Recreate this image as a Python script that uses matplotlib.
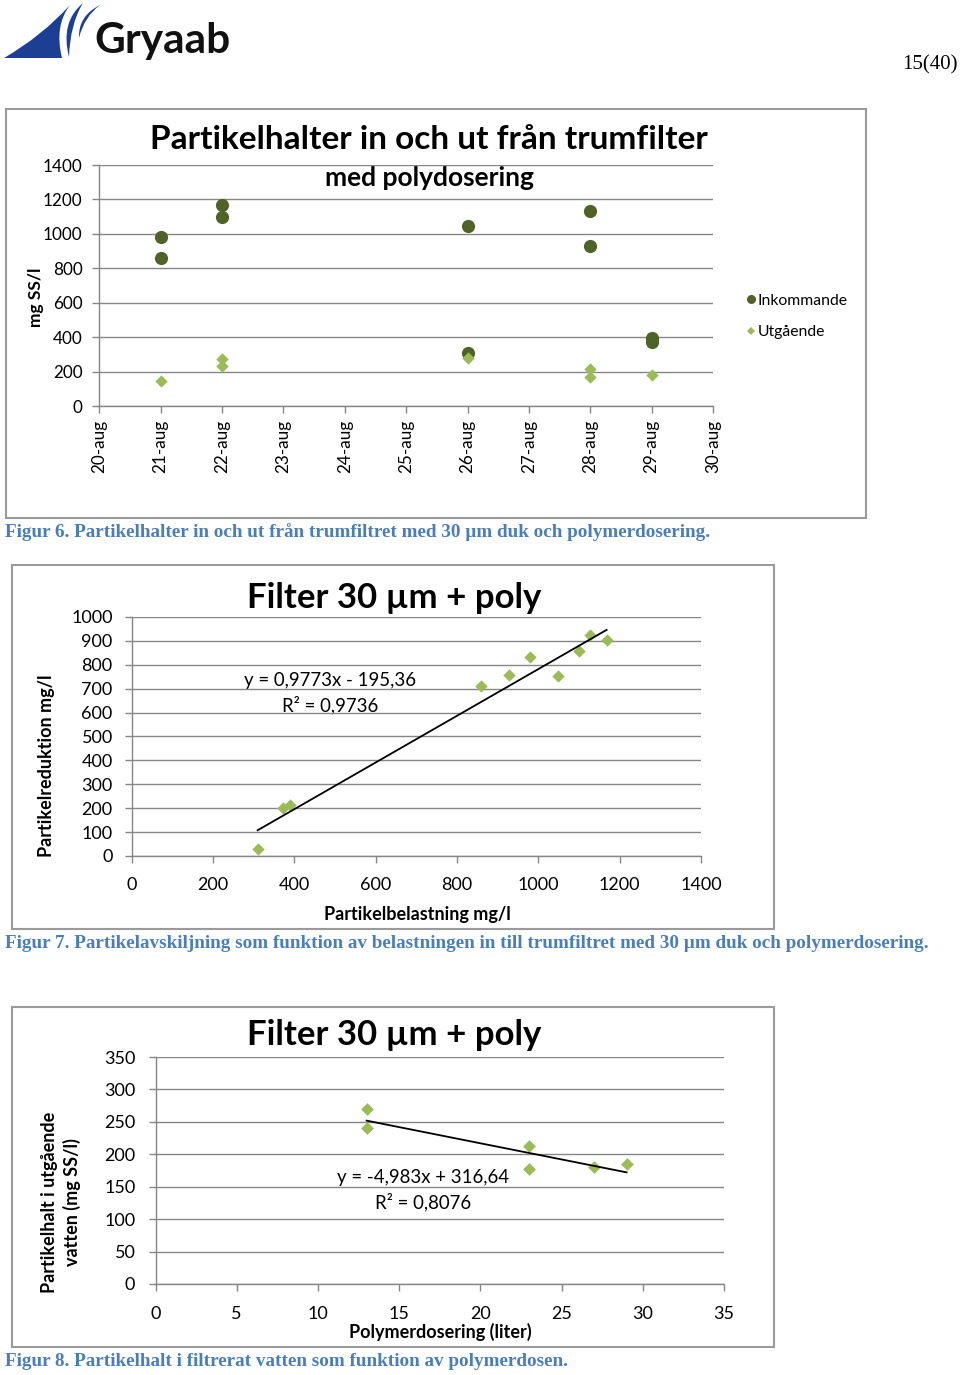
import matplotlib
matplotlib.use('Agg')
import matplotlib.pyplot as plt
import matplotlib.dates as mdates
from matplotlib.path import Path
from matplotlib.patches import PathPatch, Rectangle
from matplotlib.lines import Line2D
from matplotlib.ticker import FuncFormatter, MultipleLocator
import numpy as np
import pandas as pd

# ---------------- data ----------------
date_ticks = pd.date_range('2012-08-20', '2012-08-30', freq='D')
ink_dates = pd.to_datetime(['2012-08-21', '2012-08-21', '2012-08-22', '2012-08-22',
                            '2012-08-26', '2012-08-26', '2012-08-28', '2012-08-28',
                            '2012-08-29', '2012-08-29'])
ink_vals = [979, 857, 1170, 1100, 1048, 310, 1130, 928, 395, 373]
utg_dates = pd.to_datetime(['2012-08-21', '2012-08-22', '2012-08-22', '2012-08-26',
                            '2012-08-28', '2012-08-28', '2012-08-29'])
utg_vals = [146, 271, 233, 281, 213, 170, 180]

belastning = [310, 372, 390, 860, 929, 980, 1049, 1099, 1128, 1168]
reduktion = [31, 200, 213, 711, 758, 833, 752, 859, 923, 903]
fit2_slope, fit2_icpt = 0.9773, -195.36
fit2_text = ["y = 0,9773x - 195,36", "R² = 0,9736"]

polymer = [13, 13, 23, 23, 27, 29]
utg_halt = [270, 240, 213, 177, 181, 185]
fit3_slope, fit3_icpt = -4.983, 316.64
fit3_text = ["y = -4,983x + 316,64", "R² = 0,8076"]

# ---------------- style ----------------
FONT = 'Lato'
GRAY = '#868686'
DARK = '#4f6228'
LIGHT = '#9bbb59'
CAP = '#4a7ebb'
plt.rcParams['font.family'] = [FONT, 'DejaVu Sans']

W, H = 960, 1375
fig = plt.figure(figsize=(W / 100, H / 100), dpi=100)
page = fig.add_axes([0, 0, 1, 1])
page.set_xlim(0, W)
page.set_ylim(H, 0)
page.axis('off')


def axes_px(l, t, r, b):
    return fig.add_axes([l / W, 1 - b / H, (r - l) / W, (b - t) / H])


def style_axes(ax, fs):
    for s in ('top', 'right'):
        ax.spines[s].set_visible(False)
    for s in ('left', 'bottom'):
        ax.spines[s].set_color(GRAY)
        ax.spines[s].set_linewidth(1.0)
    ax.grid(axis='y', color=GRAY, linewidth=1.0)
    ax.set_axisbelow(True)
    ax.tick_params(axis='both', colors=GRAY, labelcolor='black', labelsize=fs,
                   length=5, width=1.0, direction='out')
    ax.patch.set_alpha(0)


# ---------------- header / logo ----------------
blue = '#1c3f94'
codes = [Path.MOVETO, Path.CURVE3, Path.CURVE3, Path.CURVE3, Path.CURVE3, Path.CLOSEPOLY]
verts = [(4, 58), (42, 36), (70, 5), (54, 26), (62, 58), (4, 58)]
page.add_patch(PathPatch(Path(verts, codes), facecolor=blue, edgecolor='none'))
verts = [(83, 3), (60, 22), (69, 57), (70, 24), (83, 3), (83, 3)]
page.add_patch(PathPatch(Path(verts, codes), facecolor=blue, edgecolor='none'))
verts = [(100, 5), (78, 16), (79, 38), (84, 17), (100, 5), (100, 5)]
page.add_patch(PathPatch(Path(verts, codes), facecolor=blue, edgecolor='none'))
page.text(94, 41, 'Gryaab', fontsize=30.5, fontweight='bold', color='#111111',
          ha='left', va='center', family=FONT)
page.text(958, 65, '15(40)', fontsize=15, family='Liberation Serif', ha='right', va='center')

# borders
for (l, t, r, b) in [(6, 109, 866, 518), (12, 565, 774, 929), (12, 1007, 774, 1347)]:
    page.add_patch(Rectangle((l, t), r - l, b - t, fill=False, edgecolor='#9a9a9a', linewidth=1.5))

# captions
caps = [(532, "Figur 6. Partikelhalter in och ut från trumfiltret med 30 µm duk och polymerdosering."),
        (943, "Figur 7. Partikelavskiljning som funktion av belastningen in till trumfiltret med 30 µm duk och polymerdosering."),
        (1361, "Figur 8. Partikelhalt i filtrerat vatten som funktion av polymerdosen.")]
for y, t in caps:
    page.text(5, y, t, fontsize=13.75, fontweight='bold', family='Liberation Serif',
              color=CAP, ha='left', va='center')

# ---------------- chart 1 ----------------
ax1 = axes_px(99.3, 165, 713, 406)
style_axes(ax1, 12.3)
ax1.scatter(ink_dates, ink_vals, s=9.5 ** 2, marker='o', color=DARK, zorder=3, label='Inkommande', linewidths=0)
ax1.scatter(utg_dates, utg_vals, s=6.3 ** 2, marker='D', color=LIGHT, zorder=4, label='Utgående', linewidths=0)
ax1.set_xlim(date_ticks[0], date_ticks[-1])
ax1.set_ylim(0, 1400)
ax1.set_yticks(np.arange(0, 1401, 200))
ax1.set_xticks(date_ticks)
ax1.xaxis.set_major_formatter(FuncFormatter(lambda v, p: f"{mdates.num2date(v).day}-aug"))
ax1.tick_params(axis='x', labelrotation=90, pad=5)
ax1.tick_params(axis='y', pad=7)
ax1.set_ylabel('mg SS/l', fontsize=12.5, fontweight='bold')
ax1.yaxis.set_label_coords(44 / W, 1 - 297 / H, transform=fig.transFigure)
page.text(429, 139, 'Partikelhalter in och ut från trumfilter', fontsize=24, fontweight='bold',
          ha='center', va='center')
page.text(429, 178, 'med polydosering', fontsize=19, fontweight='bold', ha='center', va='center')
handles = [Line2D([], [], marker='o', linestyle='none', color=DARK, markersize=6.5, markeredgewidth=0),
           Line2D([], [], marker='D', linestyle='none', color=LIGHT, markersize=4.5, markeredgewidth=0)]
ax1.legend(handles, ['Inkommande', 'Utgående'], loc='upper left',
           bbox_to_anchor=(737 / W, 1 - 286 / H), bbox_transform=fig.transFigure,
           frameon=False, fontsize=11.3, handlelength=0.8, handletextpad=0.0,
           labelspacing=1.1, borderpad=0)

# ---------------- chart 2 ----------------
ax2 = axes_px(131.5, 617, 701, 856)
style_axes(ax2, 13)
ax2.scatter(belastning, reduktion, s=6.3 ** 2, marker='D', color=LIGHT, zorder=3, linewidths=0)
xf = np.array([min(belastning), max(belastning)])
ax2.plot(xf, fit2_slope * xf + fit2_icpt, color='black', linewidth=1.3, zorder=4)
ax2.set_xlim(0, 1400)
ax2.set_ylim(0, 1000)
ax2.xaxis.set_major_locator(MultipleLocator(200))
ax2.yaxis.set_major_locator(MultipleLocator(100))
ax2.tick_params(axis='x', pad=10)
ax2.tick_params(axis='y', pad=8.5)
ax2.set_xlabel('Partikelbelastning mg/l', fontsize=13, fontweight='bold')
ax2.xaxis.set_label_coords(417 / W, 1 - 906 / H, transform=fig.transFigure)
ax2.set_ylabel('Partikelreduktion mg/l', fontsize=13, fontweight='bold')
ax2.yaxis.set_label_coords(55 / W, 1 - 766 / H, transform=fig.transFigure)
page.text(394, 598, 'Filter 30 µm + poly', fontsize=25, fontweight='bold', ha='center', va='center')
page.text(330, 680, fit2_text[0], fontsize=13.4, ha='center', va='center')
page.text(330, 705, fit2_text[1], fontsize=13.4, ha='center', va='center')

# ---------------- chart 3 ----------------
ax3 = axes_px(155.5, 1057, 724, 1284)
style_axes(ax3, 13)
ax3.scatter(polymer, utg_halt, s=6.5 ** 2, marker='D', color=LIGHT, zorder=3, linewidths=0)
xf = np.array([min(polymer), max(polymer)])
ax3.plot(xf, fit3_slope * xf + fit3_icpt, color='black', linewidth=1.3, zorder=4)
ax3.set_xlim(0, 35)
ax3.set_ylim(0, 350)
ax3.xaxis.set_major_locator(MultipleLocator(5))
ax3.yaxis.set_major_locator(MultipleLocator(50))
ax3.tick_params(axis='x', pad=10.5)
ax3.tick_params(axis='y', pad=9.5)
ax3.set_xlabel('Polymerdosering (liter)', fontsize=13, fontweight='bold')
ax3.xaxis.set_label_coords(440 / W, 1 - 1323 / H, transform=fig.transFigure)
ax3.set_ylabel('Partikelhalt i utgående\nvatten (mg SS/l)', fontsize=13, fontweight='bold',
               linespacing=1.3)
ax3.yaxis.set_label_coords(81 / W, 1 - 1202 / H, transform=fig.transFigure)
page.text(394, 1035, 'Filter 30 µm + poly', fontsize=25, fontweight='bold', ha='center', va='center')
page.text(423, 1177, fit3_text[0], fontsize=13.4, ha='center', va='center')
page.text(423, 1202, fit3_text[1], fontsize=13.4, ha='center', va='center')

fig.savefig('out.png', dpi=100)
